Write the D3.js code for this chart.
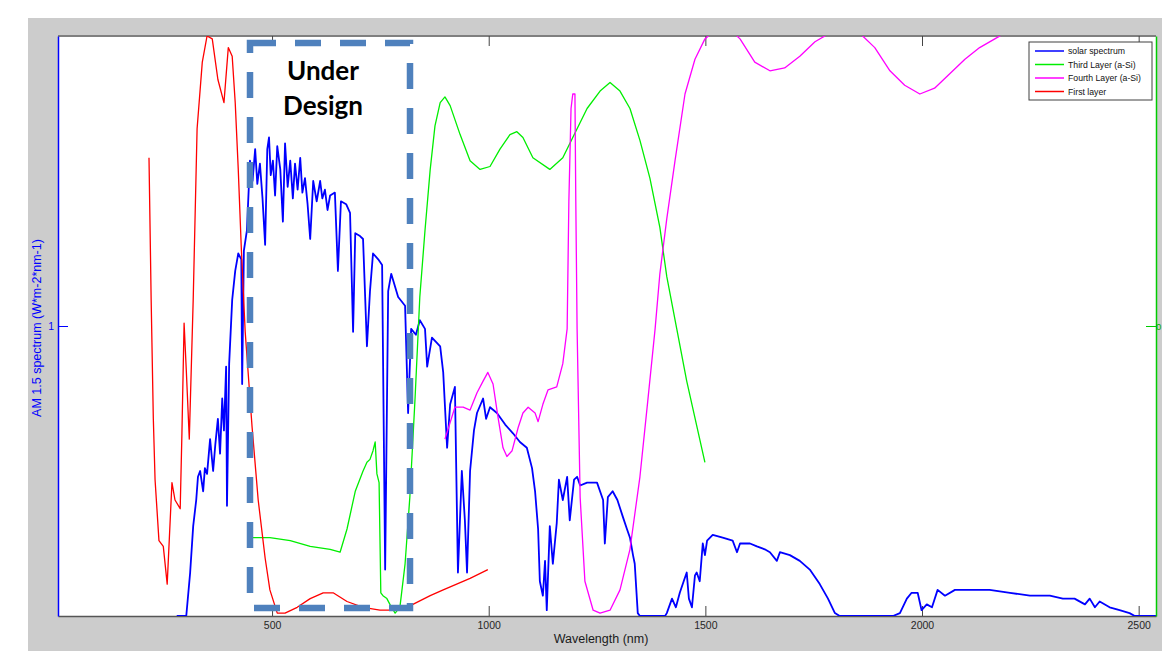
<!DOCTYPE html>
<html>
<head>
<meta charset="utf-8">
<script src="https://cdn.jsdelivr.net/npm/d3@7/dist/d3.min.js"></script>
<style>
body { margin: 0; background: #fff; }
svg { display: block; font-family: "Liberation Sans", Arial, sans-serif; }
</style>
</head>
<body>
<div id="chart"></div>
<script>
// ---- data ----
const xTicks = [500, 1000, 1500, 2000, 2500];

// AM 1.5 solar spectrum (left axis)
const solarNm = [280, 302, 311, 318, 325, 329, 334, 341, 345, 350, 357, 364, 369, 375, 380, 385, 389, 394, 396, 401,
    408, 415, 422, 429, 431, 435, 442, 449, 455, 461, 466, 472, 478, 484, 489, 493, 497, 502, 507, 512, 519, 525, 530,
    536, 542, 548, 553, 559, 565, 570, 576, 582, 588, 595, 603, 611, 616, 622, 628, 634, 645, 652, 659, 671, 680, 687,
    692, 703, 710, 719, 726, 733, 745, 754, 761, 768, 775, 791, 807, 814, 821, 832, 841, 853, 858, 869, 888, 895, 904,
    911, 922, 929, 938, 945, 950, 957, 966, 973, 987, 994, 1003, 1019, 1038, 1056, 1072, 1088, 1100, 1107, 1114, 1118,
    1125, 1130, 1134, 1141, 1148, 1157, 1162, 1171, 1181, 1187, 1197, 1204, 1211, 1227, 1250, 1264, 1268, 1275, 1286,
    1297, 1310, 1319, 1326, 1333, 1337, 1344, 1349, 1407, 1411, 1423, 1432, 1441, 1450, 1457, 1462, 1469, 1476, 1480,
    1487, 1494, 1499, 1504, 1517, 1540, 1563, 1573, 1580, 1603, 1619, 1637, 1649, 1665, 1672, 1695, 1718, 1741, 1764,
    1783, 1799, 1810, 1933, 1949, 1965, 1976, 1990, 1999, 2011, 2023, 2036, 2053, 2076, 2110, 2156, 2203, 2249, 2295,
    2325, 2352, 2376, 2387, 2399, 2410, 2433, 2456, 2479, 2491, 2540];
const solarVal = [0, 0, 0.15, 0.31, 0.40, 0.48, 0.50, 0.43, 0.51, 0.49, 0.61, 0.50, 0.59, 0.68, 0.56, 0.75, 0.64, 0.86, 0.38, 0.87,
    1.09, 1.19, 1.25, 1.23, 0.80, 1.26, 1.33, 1.57, 1.50, 1.61, 1.49, 1.56, 1.44, 1.28, 1.61, 1.65, 1.52, 1.57, 1.45, 1.62, 1.54, 1.36, 1.63,
    1.48, 1.57, 1.44, 1.56, 1.47, 1.58, 1.46, 1.51, 1.42, 1.30, 1.50, 1.43, 1.50, 1.44, 1.47, 1.40, 1.45, 1.46, 1.19, 1.43, 1.42, 1.39, 0.98,
    1.32, 1.31, 1.30, 0.93, 1.12, 1.25, 1.23, 1.21, 0.16, 1.12, 1.18, 1.10, 1.07, 0.70, 0.99, 0.97, 1.02, 0.99, 0.86, 0.96, 0.93, 0.84, 0.58,
    0.73, 0.79, 0.15, 0.50, 0.33, 0.15, 0.50, 0.64, 0.70, 0.75, 0.68, 0.72, 0.70, 0.66, 0.63, 0.60, 0.58, 0.51, 0.43, 0.30, 0.12,
    0.07, 0.19, 0.02, 0.31, 0.18, 0.32, 0.47, 0.40, 0.48, 0.33, 0.47, 0.48, 0.45, 0.46, 0.46, 0.40, 0.25, 0.41, 0.43,
    0.40, 0.34, 0.30, 0.27, 0.21, 0.18, 0.01, 0, 0, 0.01, 0.06, 0.03, 0.08, 0.12, 0.15, 0.06, 0.03, 0.14, 0.15,
    0.12, 0.25, 0.21, 0.26, 0.28, 0.27, 0.26, 0.22, 0.25, 0.25, 0.24, 0.23, 0.22, 0.19, 0.22, 0.21, 0.19, 0.16, 0.11,
    0.06, 0.01, 0, 0, 0.01, 0.06, 0.08, 0.08, 0.02, 0.04, 0.03, 0.09, 0.07, 0.09, 0.09, 0.09, 0.08, 0.07, 0.07,
    0.06, 0.06, 0.04, 0.06, 0.03, 0.05, 0.03, 0.02, 0.01, 0, 0];

// Third Layer (a-Si) (right axis)
const thirdNm = [456, 495, 542, 588, 634, 657, 673, 692, 710, 719, 726, 733, 738, 742, 747, 751, 756, 765, 772, 784, 795,
    807, 818, 830, 841, 853, 865, 876, 888, 899, 911, 934, 957, 980, 1003, 1026, 1049, 1065, 1079, 1102, 1141, 1171,
    1194, 1227, 1257, 1280, 1303, 1326, 1349, 1372, 1395, 1411, 1434, 1457, 1499];
const thirdVal = [-0.73, -0.73, -0.74, -0.76, -0.77, -0.78, -0.70, -0.57, -0.50, -0.47, -0.46, -0.43, -0.40, -0.51, -0.54, -0.92, -0.93, -0.94, -0.96, -0.99, -0.97,
    -0.82, -0.59, -0.25, 0.10, 0.33, 0.54, 0.69, 0.77, 0.79, 0.76, 0.66, 0.57, 0.54, 0.55, 0.61, 0.66, 0.67, 0.65, 0.58, 0.54, 0.58,
    0.65, 0.75, 0.81, 0.84, 0.81, 0.75, 0.64, 0.51, 0.34, 0.17, -0.01, -0.19, -0.47];

// Fourth Layer (a-Si) (right axis)
const fourthNm = [899, 922, 941, 957, 973, 987, 998, 1010, 1021, 1033, 1042, 1054, 1068, 1079, 1091, 1107, 1114, 1125, 1137,
    1157, 1171, 1181, 1185, 1190, 1194, 1199, 1201, 1204, 1211, 1222, 1241, 1257, 1280, 1303, 1326, 1349, 1367, 1384,
    1395, 1411, 1430, 1453, 1476, 1499, 1522, 1552, 1580, 1614, 1649, 1683, 1718, 1753, 1787, 1822, 1856, 1891, 1926,
    1960, 1995, 2029, 2064, 2099, 2133, 2168, 2191];
const fourthVal = [-0.39, -0.28, -0.28, -0.29, -0.23, -0.19, -0.16, -0.20, -0.31, -0.42, -0.45, -0.43, -0.35, -0.30, -0.28, -0.30, -0.33, -0.27, -0.22,
    -0.21, -0.13, -0.01, 0.43, 0.75, 0.80, 0.80, 0.43, -0.01, -0.59, -0.88, -0.98, -0.99, -0.98, -0.91, -0.77, -0.52, -0.26, -0.01,
    0.18, 0.37, 0.57, 0.80, 0.92, 0.99, 1.02, 1.03, 0.99, 0.91, 0.88, 0.89, 0.93, 0.98, 1.01, 1.02, 1.01, 0.96, 0.88,
    0.83, 0.80, 0.82, 0.87, 0.92, 0.96, 0.99, 1.01];

// First layer (right axis)
const firstNm = [216, 221, 226, 230, 239, 249, 258, 269, 276, 288, 292, 297, 302, 309, 318, 327, 339, 350, 362, 375,
    389, 399, 408, 415, 422, 429, 438, 454, 468, 484, 495, 512, 530, 558, 588, 618, 641, 673, 710, 749, 788, 825,
    865, 895, 957, 998];
const firstVal = [0.58, 0.09, -0.32, -0.53, -0.74, -0.76, -0.89, -0.54, -0.60, -0.63, -0.37, 0.01, -0.15, -0.39, 0.09, 0.68, 0.91, 1.0, 0.99, 0.85,
    0.77, 0.96, 0.93, 0.77, 0.54, 0.27, -0.02, -0.35, -0.60, -0.80, -0.91, -0.99, -0.99, -0.97, -0.94, -0.92, -0.92, -0.95, -0.97, -0.98, -0.98, -0.96,
    -0.93, -0.91, -0.87, -0.84];

const series = [
    {name: "solar spectrum", nm: solarNm, val: solarVal, colour: "#0000ff", axis: "left", w: 1.8},
    {name: "Third Layer (a-Si)", nm: thirdNm, val: thirdVal, colour: "#00ee00", axis: "right", w: 1.3},
    {name: "Fourth Layer (a-Si)", nm: fourthNm, val: fourthVal, colour: "#ff00ff", axis: "right", w: 1.3},
    {name: "First layer", nm: firstNm, val: firstVal, colour: "#ff0000", axis: "right", w: 1.3}
];

// ---- layout ----
const margins = {top: 36, right: 6, bottom: 35, left: 58};
const width = 1162, height = 651;
const plotW = width - margins.left - margins.right;
const plotH = height - margins.top - margins.bottom;

const svg = d3.select("#chart")
    .append("svg")
    .attr("width", width)
    .attr("height", height);

// grey figure background
svg.append("rect")
    .attr("x", 28).attr("y", 18)
    .attr("width", width - 28).attr("height", height - 18)
    .attr("fill", "#cccccc");

const g = svg.append("g")
    .attr("transform", "translate(" + margins.left + "," + margins.top + ")");

g.append("rect")
    .attr("width", plotW).attr("height", plotH)
    .attr("fill", "#ffffff");

g.append("clipPath").attr("id", "plotClip")
    .append("rect").attr("width", plotW).attr("height", plotH);

// scales
const x = d3.scaleLinear().domain([6, 2540]).range([0, plotW]);
const yLeft = d3.scaleLinear().domain([0, 2]).range([plotH, 0]);
const yRight = d3.scaleLinear().domain([-1, 1]).range([plotH, 0]);

// top border
g.append("line")
    .attr("x1", 0).attr("x2", plotW)
    .attr("y1", 0).attr("y2", 0)
    .attr("stroke", "#7f7f7f").attr("stroke-width", 2);

// top ticks
g.append("g")
    .call(d3.axisTop(x).tickValues(xTicks).tickSize(-10).tickFormat(""))
    .call(a => a.select(".domain").remove())
    .call(a => a.selectAll("line").attr("stroke", "#444"));

// bottom axis
const xAxis = g.append("g")
    .attr("transform", "translate(0," + plotH + ")")
    .call(d3.axisBottom(x).tickValues(xTicks).tickSize(-10).tickSizeOuter(0)
        .tickPadding(6).tickFormat(d3.format("d")));
xAxis.select(".domain").attr("stroke", "#555").attr("stroke-width", 1.5);
xAxis.selectAll("line").attr("stroke", "#444");
xAxis.selectAll("text")
    .attr("fill", "#262626")
    .style("font-size", "10.5px");

// lines
const lines = g.append("g").attr("clip-path", "url(#plotClip)");
series.forEach(s => {
    const yS = s.axis === "left" ? yLeft : yRight;
    const line = d3.line()
        .x(d => x(d[0]))
        .y(d => yS(d[1]));
    lines.append("path")
        .datum(d3.zip(s.nm, s.val))
        .attr("fill", "none")
        .attr("stroke", s.colour)
        .attr("stroke-width", s.w)
        .attr("stroke-linejoin", "round")
        .attr("d", line);
});

// left axis (blue)
const yAxisL = g.append("g")
    .call(d3.axisLeft(yLeft).tickValues([1]).tickSize(-10).tickSizeOuter(0)
        .tickPadding(4).tickFormat(d3.format("d")));
yAxisL.select(".domain").attr("stroke", "#0000ff").attr("stroke-width", 1.5);
yAxisL.selectAll("line").attr("stroke", "#0000ff");
yAxisL.selectAll("text").attr("fill", "#0000ff").style("font-size", "10.5px");

// right axis (green)
const yAxisR = g.append("g")
    .attr("transform", "translate(" + plotW + ",0)")
    .call(d3.axisRight(yRight).tickValues([0]).tickSize(-10).tickSizeOuter(0)
        .tickPadding(0).tickFormat(d3.format("d")));
yAxisR.select(".domain").attr("stroke", "#00cc00").attr("stroke-width", 1.5);
yAxisR.selectAll("line").attr("stroke", "#00cc00");
yAxisR.selectAll("text").attr("fill", "#00aa00").style("font-size", "9.5px");

// axis labels
svg.append("text")
    .attr("text-anchor", "middle")
    .attr("transform", "translate(41,328) rotate(-90)")
    .attr("fill", "#0000ff")
    .style("font-size", "12.5px")
    .text("AM 1.5 spectrum (W*m-2*nm-1)");

svg.append("text")
    .attr("text-anchor", "middle")
    .attr("x", 601)
    .attr("y", 643)
    .attr("fill", "#1a1a1a")
    .style("font-size", "12.5px")
    .text("Wavelength (nm)");

// "Under Design" overlay box
svg.append("rect")
    .attr("x", 250).attr("y", 43)
    .attr("width", 160).attr("height", 565)
    .attr("fill", "none")
    .attr("stroke", "#4f81bd")
    .attr("stroke-width", 6.5)
    .attr("stroke-dasharray", "26,19");

svg.append("text")
    .attr("text-anchor", "middle")
    .attr("x", 323).attr("y", 80)
    .style("font-family", "Lato, 'Open Sans', sans-serif")
    .style("font-weight", "bold")
    .style("font-size", "26px")
    .attr("fill", "#000")
    .text("Under");
svg.append("text")
    .attr("text-anchor", "middle")
    .attr("x", 323).attr("y", 115)
    .style("font-family", "Lato, 'Open Sans', sans-serif")
    .style("font-weight", "bold")
    .style("font-size", "26px")
    .attr("fill", "#000")
    .text("Design");

// legend
const legend = svg.append("g").attr("transform", "translate(1029,42)");
legend.append("rect")
    .attr("width", 123).attr("height", 58)
    .attr("fill", "#fff")
    .attr("stroke", "#404040")
    .attr("stroke-width", 1);

const items = legend.selectAll(".legend-item")
    .data(series)
    .enter()
    .append("g")
    .attr("class", "legend-item")
    .attr("transform", (d, i) => "translate(0," + (9 + i * 13.5) + ")");

items.append("line")
    .attr("x1", 6).attr("x2", 35)
    .attr("stroke", d => d.colour)
    .attr("stroke-width", 1.5);

items.append("text")
    .attr("x", 39)
    .attr("dy", "0.35em")
    .style("font-size", "8.7px")
    .attr("fill", "#111")
    .text(d => d.name);
</script>
</body>
</html>
